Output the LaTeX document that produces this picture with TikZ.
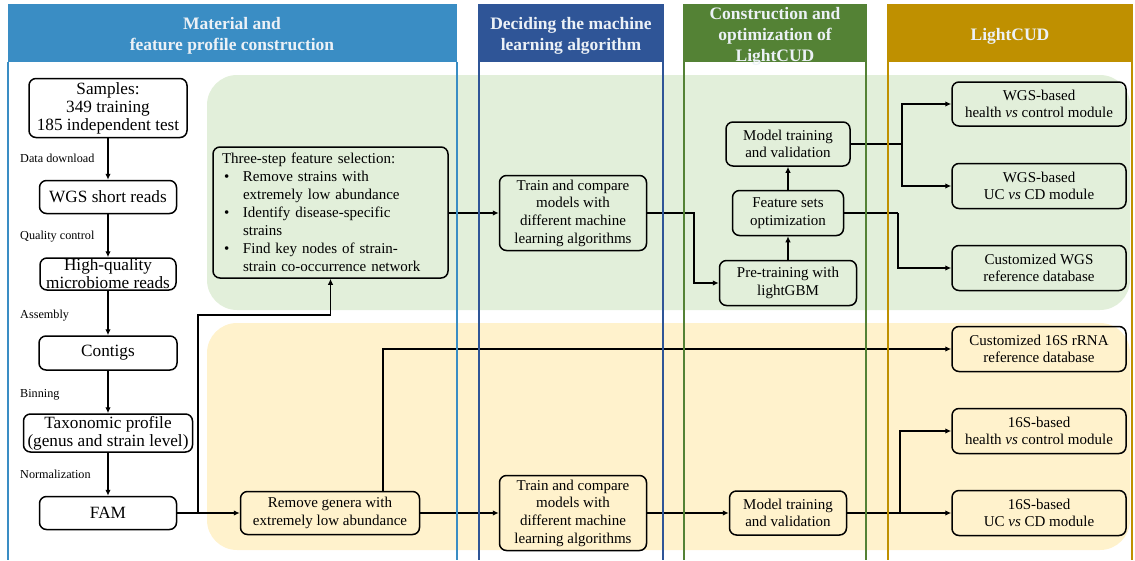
\documentclass[tikz,border=0pt]{standalone}
\usepackage{fontspec}
\setmainfont{Liberation Serif}
\usetikzlibrary{arrows.meta,calc}
\definecolor{cA}{RGB}{58,141,196}
\definecolor{cB}{RGB}{47,85,151}
\definecolor{cC}{RGB}{84,130,53}
\definecolor{cD}{RGB}{191,144,0}
\definecolor{bgG}{RGB}{226,239,218}
\definecolor{bgY}{RGB}{255,242,204}
\definecolor{hdtxt}{RGB}{236,241,246}
\begin{document}
\begin{tikzpicture}[x=1pt,y=-1pt,
 box/.style={draw=black, line width=1.5pt, rounded corners=7pt, align=center, inner sep=0pt, font=\fontsize{15}{17.5}\selectfont},
 lbox/.style={box, font=\fontsize{17.2}{18}\selectfont},
 lbl/.style={anchor=west, font=\fontsize{12.2}{14}\selectfont, inner sep=0pt},
 arr/.style={line width=1.5pt, -{Latex[length=6pt,width=5.5pt]}},
 ln/.style={line width=1.5pt},
 hdr/.style={text=hdtxt, font=\fontsize{17.5}{21}\selectfont\bfseries, align=center, inner sep=0pt},
 frame/.style={line width=2.5pt}
]
\useasboundingbox (0,0) rectangle (1135,560);
% backgrounds
\fill[bgG, rounded corners=30pt] (207,75) rectangle (1130,310);
\fill[bgY, rounded corners=30pt] (207,323) rectangle (1130,550);
% headers
\fill[cA] (8,4) rectangle (457,62);
\fill[cB] (478,4) rectangle (664,62);
\fill[cC] (683,4) rectangle (867,62);
\fill[cD] (887,4) rectangle (1133,62);
\node[hdr] (h1) at (232,36) {Material and\\feature profile construction};
\node[hdr] (h2) at (571,36) {Deciding the machine\\learning algorithm};
\node[hdr] (h3) at (775,36) {Construction and\\optimization of\\LightCUD};
\node[hdr] (h4) at (1010,36) {LightCUD};
% left column
\node[lbox, minimum width=158pt, minimum height=59pt] (s) at (108,108) {Samples:\\349 training\\185 independent test};
\node[lbox, minimum width=137pt, minimum height=33pt] (w) at (108,197) {WGS short reads};
\node[lbox, minimum width=136pt, minimum height=32pt] (hq) at (108,274) {High-quality\\microbiome reads};
\node[lbox, minimum width=138pt, minimum height=34pt] (ct) at (108,353) {Contigs};
\node[lbox, minimum width=169pt, minimum height=38pt] (tx) at (108,433) {Taxonomic profile\\(genus and strain level)};
\node[lbox, minimum width=137pt, minimum height=33pt] (fam) at (108,513) {FAM};
\node[lbl] (l1) at (20,158) {Data download};
\node[lbl] (l2) at (20,237) {Quality control};
\node[lbl] (l3) at (20,316) {Assembly};
\node[lbl] (l4) at (20,395) {Binning};
\node[lbl] (l5) at (20,474) {Normalization};
\draw[arr] (s) -- (w);
\draw[arr] (w) -- (hq);
\draw[arr] (hq) -- (ct);
\draw[arr] (ct) -- (tx);
\draw[arr] (tx) -- (fam);
% feature selection
\node[box, align=left, text width=217pt, inner xsep=9pt, minimum height=131pt, font=\fontsize{15}{18}\selectfont] (ts) at (330.5,212.5) {Three-step feature selection:\\
\makebox[21pt][l]{\hspace*{2pt}\textbullet}Remove strains with\\
\hspace*{21pt}extremely low abundance\\
\makebox[21pt][l]{\hspace*{2pt}\textbullet}Identify disease-specific\\
\hspace*{21pt}strains\\
\makebox[21pt][l]{\hspace*{2pt}\textbullet}Find key nodes of strain-\\
\hspace*{21pt}strain co-occurrence network};
\node[box, minimum width=179pt, minimum height=43pt] (rg) at (330,513) {Remove genera with\\extremely low abundance};
\coordinate (j1) at (198,513);
\coordinate (t1) at (198,315);
\draw[arr] (fam) -- (rg);
\draw[arr] (j1) -- (t1) -| (ts.south);
% middle
\node[box, minimum width=147pt, minimum height=75pt, font=\fontsize{15}{17.7}\selectfont] (tc1) at (573,213) {Train and compare\\models with\\different machine\\learning algorithms};
\node[box, minimum width=147pt, minimum height=75pt, font=\fontsize{15}{17.7}\selectfont] (tc2) at (573,513) {Train and compare\\models with\\different machine\\learning algorithms};
\node[box, minimum width=137pt, minimum height=45pt] (pt) at (788,283) {Pre-training with\\lightGBM};
\node[box, minimum width=111pt, minimum height=45pt] (fs) at (788,213) {Feature sets\\optimization};
\node[box, minimum width=124pt, minimum height=44pt] (mt1) at (788,144) {Model training\\and validation};
\node[box, minimum width=117pt, minimum height=44pt] (mt2) at (788,513) {Model training\\and validation};
\draw[arr] (ts.east |- tc1.west) -- (tc1.west);
\coordinate (b1) at (694,213);
\draw[arr] (tc1.east) -- (b1) |- (pt.west);
\draw[arr] (pt) -- (fs);
\draw[arr] (fs) -- (mt1);
\draw[arr] (rg) -- (tc2);
\draw[arr] (tc2) -- (mt2);
% right column
\node[box, minimum width=174pt, minimum height=44pt] (wh) at (1039,104) {WGS-based\\health \textit{vs} control module};
\node[box, minimum width=174pt, minimum height=45pt] (wu) at (1039,186) {WGS-based\\UC \textit{vs} CD module};
\node[box, minimum width=174pt, minimum height=45pt] (cw) at (1039,268) {Customized WGS\\reference database};
\node[box, minimum width=174pt, minimum height=45pt] (c16) at (1039,349) {Customized 16S rRNA\\reference database};
\node[box, minimum width=174pt, minimum height=45pt] (sh) at (1039,431) {16S-based\\health \textit{vs} control module};
\node[box, minimum width=174pt, minimum height=45pt] (su) at (1039,513) {16S-based\\UC \textit{vs} CD module};
\coordinate (j2) at (902,144);
\draw[ln] (mt1.east |- j2) -- (j2);
\draw[arr] (j2) |- (wh.west);
\draw[arr] (j2) |- (wu.west);
\coordinate (j3) at (898,213);
\draw[ln] (fs.east) -- (j3);
\draw[arr] (j3) |- (cw.west);
\coordinate (r1) at (383,349);
\draw[arr] (rg.north -| r1) -- (r1) -- (c16.west);
\coordinate (j4) at (900,513);
\draw[arr] (mt2) -- (su);
\draw[arr] (j4) |- (sh.west);
% frames
\draw[cA, frame] (8,62) -- (8,560) (457,62) -- (457,560);
\draw[cB, frame] (479,62) -- (479,560) (663,62) -- (663,560);
\draw[cC, frame] (684,62) -- (684,560) (866,62) -- (866,560);
\draw[cD, frame] (888,62) -- (888,560) (1132,62) -- (1132,560);
\end{tikzpicture}
\end{document}
